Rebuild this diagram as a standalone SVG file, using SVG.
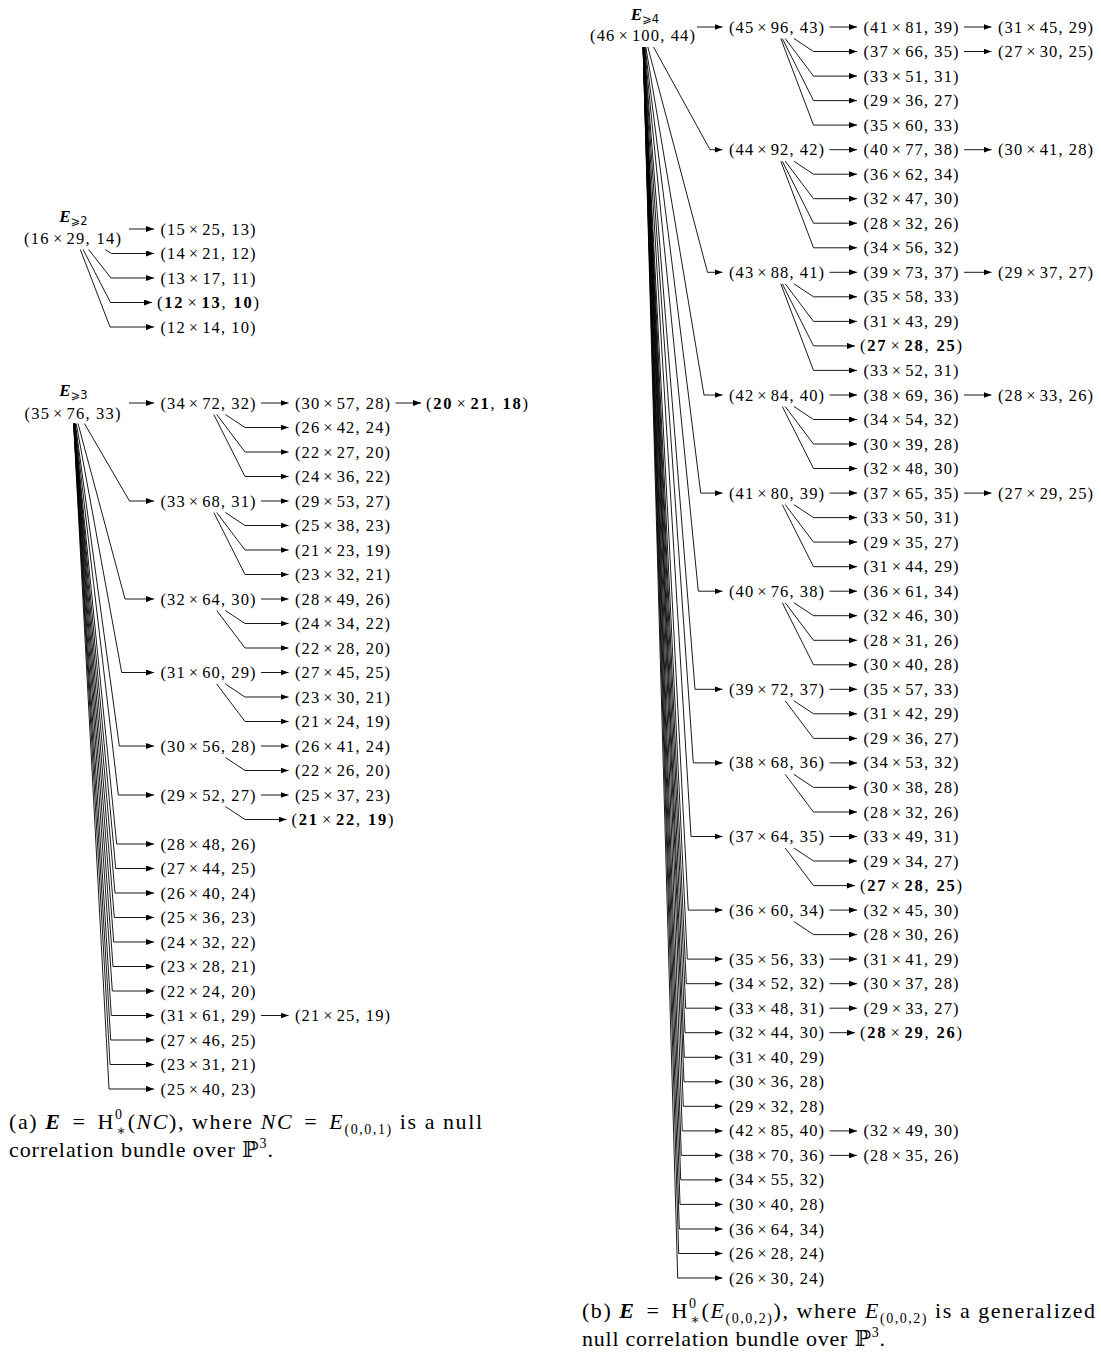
<svg xmlns="http://www.w3.org/2000/svg" width="1101" height="1355" viewBox="0 0 1101 1355">
<defs>
<style>
.t{font-family:"Liberation Serif","DejaVu Serif",serif;font-size:16.5px;text-anchor:middle;fill:#000}
.b{font-weight:bold}
.e{font-family:"Liberation Serif","DejaVu Serif",serif;font-size:17px;text-anchor:middle;fill:#000}
.bi{font-weight:bold;font-style:italic}
.sub{font-size:11.5px;font-family:"DejaVu Sans","Liberation Serif",serif}
.cap{font-family:"Liberation Serif","DejaVu Serif",serif;font-size:22px;fill:#000}
.it{font-style:italic}
.sm{font-size:14px}
.c{fill:none;stroke:#000;stroke-width:0.9;marker-end:url(#ah)}
</style>
<marker id="ah" viewBox="0 0 8 6" refX="8" refY="3" markerWidth="8" markerHeight="6" markerUnits="userSpaceOnUse" orient="auto"><path d="M0,0 L8,3 L0,6 z" fill="#000"/></marker>
</defs>
<rect width="1101" height="1355" fill="#fff"/>

<g id="connectors">
<path class="c" d="M129,229 H154"/>
<polyline class="c" points="105.1,249.5 111.5,253.5 154,253.5"/>
<polyline class="c" points="88.6,249.5 111,278 154,278"/>
<polyline class="c" points="83.1,249.5 110.5,302.5 152,302.5"/>
<polyline class="c" points="80.3,249.5 110,327 154,327"/>
<path class="c" d="M129,403 H154"/>
<polyline class="c" points="84.4,423.5 129.5,501 154,501"/>
<polyline class="c" points="78,423.5 125,599 154,599"/>
<polyline class="c" points="76.2,423.5 121.7,672.5 154,672.5"/>
<polyline class="c" points="75.3,423.5 119.3,746 154,746"/>
<polyline class="c" points="74.9,423.5 118.3,795 154,795"/>
<polyline class="c" points="74.6,423.5 116.7,844 154,844"/>
<polyline class="c" points="74.4,423.5 115.7,868.5 154,868.5"/>
<polyline class="c" points="74.3,423.5 115,893 154,893"/>
<polyline class="c" points="74.2,423.5 114.3,917.5 154,917.5"/>
<polyline class="c" points="74.1,423.5 113.7,942 154,942"/>
<polyline class="c" points="74,423.5 113,966.5 154,966.5"/>
<polyline class="c" points="73.9,423.5 112.3,991 154,991"/>
<polyline class="c" points="73.8,423.5 111.3,1015.5 154,1015.5"/>
<polyline class="c" points="73.7,423.5 110.7,1040 154,1040"/>
<polyline class="c" points="73.7,423.5 110,1064.5 154,1064.5"/>
<polyline class="c" points="73.6,423.5 109,1089 154,1089"/>
<path class="c" d="M261,403 H288.5"/>
<path class="c" d="M261,501 H288.5"/>
<path class="c" d="M261,599 H288.5"/>
<path class="c" d="M261,672.5 H288.5"/>
<path class="c" d="M261,746 H288.5"/>
<path class="c" d="M261,795 H288.5"/>
<path class="c" d="M261,1015.5 H288.5"/>
<path class="c" d="M395.5,403 H421"/>
<polyline class="c" points="225.4,414.5 245,427.5 288.5,427.5"/>
<polyline class="c" points="216.7,414.5 245,452 288.5,452"/>
<polyline class="c" points="213.8,414.5 245,476.5 288.5,476.5"/>
<polyline class="c" points="225.4,512.5 245,525.5 288.5,525.5"/>
<polyline class="c" points="216.7,512.5 245,550 288.5,550"/>
<polyline class="c" points="213.8,512.5 245,574.5 288.5,574.5"/>
<polyline class="c" points="225.4,610.5 245,623.5 288.5,623.5"/>
<polyline class="c" points="216.7,610.5 245,648 288.5,648"/>
<polyline class="c" points="225.4,684 245,697 288.5,697"/>
<polyline class="c" points="216.7,684 245,721.5 288.5,721.5"/>
<polyline class="c" points="225.4,757.5 245,770.5 288.5,770.5"/>
<polyline class="c" points="225.4,806.5 245,819.5 286.5,819.5"/>
<path class="c" d="M697,27 H722.5"/>
<polyline class="c" points="653.5,47 710,149.7 722.5,149.7"/>
<polyline class="c" points="647.8,47 707.5,272.3 722.5,272.3"/>
<polyline class="c" points="645.8,47 704,395 722.5,395"/>
<polyline class="c" points="645,47 700.7,493.1 722.5,493.1"/>
<polyline class="c" points="644.5,47 698.3,591.2 722.5,591.2"/>
<polyline class="c" points="644.1,47 695,689.3 722.5,689.3"/>
<polyline class="c" points="643.9,47 693.3,762.9 722.5,762.9"/>
<polyline class="c" points="643.7,47 691,836.5 722.5,836.5"/>
<polyline class="c" points="643.5,47 688.3,910.1 722.5,910.1"/>
<polyline class="c" points="643.5,47 687.3,959.1 722.5,959.1"/>
<polyline class="c" points="643.4,47 686.3,983.7 722.5,983.7"/>
<polyline class="c" points="643.4,47 685.7,1008.2 722.5,1008.2"/>
<polyline class="c" points="643.3,47 685,1032.7 722.5,1032.7"/>
<polyline class="c" points="643.3,47 684.3,1057.3 722.5,1057.3"/>
<polyline class="c" points="643.3,47 684,1081.8 722.5,1081.8"/>
<polyline class="c" points="643.3,47 683.3,1106.3 722.5,1106.3"/>
<polyline class="c" points="643.2,47 682.3,1130.9 722.5,1130.9"/>
<polyline class="c" points="643.2,47 681.3,1155.4 722.5,1155.4"/>
<polyline class="c" points="643.2,47 680.7,1179.9 722.5,1179.9"/>
<polyline class="c" points="643.1,47 680,1204.4 722.5,1204.4"/>
<polyline class="c" points="643.1,47 679.3,1229 722.5,1229"/>
<polyline class="c" points="643.1,47 678.7,1253.5 722.5,1253.5"/>
<polyline class="c" points="643.1,47 677.7,1278 722.5,1278"/>
<path class="c" d="M829.5,27 H857"/>
<path class="c" d="M829.5,149.7 H857"/>
<path class="c" d="M829.5,272.3 H857"/>
<path class="c" d="M829.5,395 H857"/>
<path class="c" d="M829.5,493.1 H857"/>
<path class="c" d="M829.5,591.2 H857"/>
<path class="c" d="M829.5,689.3 H857"/>
<path class="c" d="M829.5,762.9 H857"/>
<path class="c" d="M829.5,836.5 H857"/>
<path class="c" d="M829.5,910.1 H857"/>
<path class="c" d="M829.5,959.1 H857"/>
<path class="c" d="M829.5,983.7 H857"/>
<path class="c" d="M829.5,1008.2 H857"/>
<path class="c" d="M829.5,1032.7 H855"/>
<path class="c" d="M829.5,1130.9 H857"/>
<path class="c" d="M829.5,1155.4 H857"/>
<path class="c" d="M964,27 H991.5"/>
<path class="c" d="M964,51.5 H991.5"/>
<path class="c" d="M964,149.7 H991.5"/>
<path class="c" d="M964,272.3 H991.5"/>
<path class="c" d="M964,395 H991.5"/>
<path class="c" d="M964,493.1 H991.5"/>
<polyline class="c" points="793.9,38.5 813.5,51.5 857,51.5"/>
<polyline class="c" points="785.2,38.5 813.5,76.1 857,76.1"/>
<polyline class="c" points="782.3,38.5 813.5,100.6 857,100.6"/>
<polyline class="c" points="780.8,38.5 813.5,125.1 857,125.1"/>
<polyline class="c" points="793.9,161.2 813.5,174.2 857,174.2"/>
<polyline class="c" points="785.2,161.2 813.5,198.7 857,198.7"/>
<polyline class="c" points="782.3,161.2 813.5,223.2 857,223.2"/>
<polyline class="c" points="780.8,161.2 813.5,247.8 857,247.8"/>
<polyline class="c" points="793.9,283.8 813.5,296.8 857,296.8"/>
<polyline class="c" points="785.2,283.8 813.5,321.4 857,321.4"/>
<polyline class="c" points="782.3,283.8 813.5,345.9 855,345.9"/>
<polyline class="c" points="780.8,283.8 813.5,370.4 857,370.4"/>
<polyline class="c" points="793.9,406.5 813.5,419.5 857,419.5"/>
<polyline class="c" points="785.2,406.5 813.5,444 857,444"/>
<polyline class="c" points="782.3,406.5 813.5,468.5 857,468.5"/>
<polyline class="c" points="793.9,504.6 813.5,517.6 857,517.6"/>
<polyline class="c" points="785.2,504.6 813.5,542.1 857,542.1"/>
<polyline class="c" points="782.3,504.6 813.5,566.7 857,566.7"/>
<polyline class="c" points="793.9,602.7 813.5,615.7 857,615.7"/>
<polyline class="c" points="785.2,602.7 813.5,640.3 857,640.3"/>
<polyline class="c" points="782.3,602.7 813.5,664.8 857,664.8"/>
<polyline class="c" points="793.9,700.8 813.5,713.8 857,713.8"/>
<polyline class="c" points="785.2,700.8 813.5,738.4 857,738.4"/>
<polyline class="c" points="793.9,774.4 813.5,787.4 857,787.4"/>
<polyline class="c" points="785.2,774.4 813.5,812 857,812"/>
<polyline class="c" points="793.9,848 813.5,861 857,861"/>
<polyline class="c" points="785.2,848 813.5,885.6 855,885.6"/>
<polyline class="c" points="793.9,921.6 813.5,934.6 857,934.6"/>
</g>

<g id="e2-root"><text class="e" x="73.5" y="222"><tspan class="bi">E</tspan><tspan class="sub" dy="3">⩾2</tspan></text><text class="t" x="72.5" y="244" textLength="97">(16<tspan dx="3">×</tspan><tspan dx="3">29</tspan>, 14)</text></g>
<g id="e2-a0"><text class="t" x="208" y="234.5" textLength="95">(15<tspan dx="3">×</tspan><tspan dx="3">25</tspan>, 13)</text></g>
<g id="e2-a1"><text class="t" x="208" y="259" textLength="95">(14<tspan dx="3">×</tspan><tspan dx="3">21</tspan>, 12)</text></g>
<g id="e2-a2"><text class="t" x="208" y="283.5" textLength="95">(13<tspan dx="3">×</tspan><tspan dx="3">17</tspan>, 11)</text></g>
<g id="e2-a3"><text class="t" x="208" y="308" textLength="102">(<tspan class="b">12</tspan><tspan dx="3">×</tspan><tspan dx="3" class="b">13</tspan>, <tspan class="b">10</tspan>)</text></g>
<g id="e2-a4"><text class="t" x="208" y="332.5" textLength="95">(12<tspan dx="3">×</tspan><tspan dx="3">14</tspan>, 10)</text></g>

<g id="e3-root"><text class="e" x="73.5" y="396"><tspan class="bi">E</tspan><tspan class="sub" dy="3">⩾3</tspan></text><text class="t" x="72.5" y="419" textLength="96">(35<tspan dx="3">×</tspan><tspan dx="3">76</tspan>, 33)</text></g>
<g id="e3-a0"><text class="t" x="208" y="408.5" textLength="95">(34<tspan dx="3">×</tspan><tspan dx="3">72</tspan>, 32)</text></g>
<g id="e3-a4"><text class="t" x="208" y="506.5" textLength="95">(33<tspan dx="3">×</tspan><tspan dx="3">68</tspan>, 31)</text></g>
<g id="e3-a8"><text class="t" x="208" y="604.5" textLength="95">(32<tspan dx="3">×</tspan><tspan dx="3">64</tspan>, 30)</text></g>
<g id="e3-a11"><text class="t" x="208" y="678" textLength="95">(31<tspan dx="3">×</tspan><tspan dx="3">60</tspan>, 29)</text></g>
<g id="e3-a14"><text class="t" x="208" y="751.5" textLength="95">(30<tspan dx="3">×</tspan><tspan dx="3">56</tspan>, 28)</text></g>
<g id="e3-a16"><text class="t" x="208" y="800.5" textLength="95">(29<tspan dx="3">×</tspan><tspan dx="3">52</tspan>, 27)</text></g>
<g id="e3-a18"><text class="t" x="208" y="849.5" textLength="95">(28<tspan dx="3">×</tspan><tspan dx="3">48</tspan>, 26)</text></g>
<g id="e3-a19"><text class="t" x="208" y="874" textLength="95">(27<tspan dx="3">×</tspan><tspan dx="3">44</tspan>, 25)</text></g>
<g id="e3-a20"><text class="t" x="208" y="898.5" textLength="95">(26<tspan dx="3">×</tspan><tspan dx="3">40</tspan>, 24)</text></g>
<g id="e3-a21"><text class="t" x="208" y="923" textLength="95">(25<tspan dx="3">×</tspan><tspan dx="3">36</tspan>, 23)</text></g>
<g id="e3-a22"><text class="t" x="208" y="947.5" textLength="95">(24<tspan dx="3">×</tspan><tspan dx="3">32</tspan>, 22)</text></g>
<g id="e3-a23"><text class="t" x="208" y="972" textLength="95">(23<tspan dx="3">×</tspan><tspan dx="3">28</tspan>, 21)</text></g>
<g id="e3-a24"><text class="t" x="208" y="996.5" textLength="95">(22<tspan dx="3">×</tspan><tspan dx="3">24</tspan>, 20)</text></g>
<g id="e3-a25"><text class="t" x="208" y="1021" textLength="95">(31<tspan dx="3">×</tspan><tspan dx="3">61</tspan>, 29)</text></g>
<g id="e3-a26"><text class="t" x="208" y="1045.5" textLength="95">(27<tspan dx="3">×</tspan><tspan dx="3">46</tspan>, 25)</text></g>
<g id="e3-a27"><text class="t" x="208" y="1070" textLength="95">(23<tspan dx="3">×</tspan><tspan dx="3">31</tspan>, 21)</text></g>
<g id="e3-a28"><text class="t" x="208" y="1094.5" textLength="95">(25<tspan dx="3">×</tspan><tspan dx="3">40</tspan>, 23)</text></g>
<g id="e3-b0"><text class="t" x="342.5" y="408.5" textLength="95">(30<tspan dx="3">×</tspan><tspan dx="3">57</tspan>, 28)</text></g>
<g id="e3-b1"><text class="t" x="342.5" y="433" textLength="95">(26<tspan dx="3">×</tspan><tspan dx="3">42</tspan>, 24)</text></g>
<g id="e3-b2"><text class="t" x="342.5" y="457.5" textLength="95">(22<tspan dx="3">×</tspan><tspan dx="3">27</tspan>, 20)</text></g>
<g id="e3-b3"><text class="t" x="342.5" y="482" textLength="95">(24<tspan dx="3">×</tspan><tspan dx="3">36</tspan>, 22)</text></g>
<g id="e3-b4"><text class="t" x="342.5" y="506.5" textLength="95">(29<tspan dx="3">×</tspan><tspan dx="3">53</tspan>, 27)</text></g>
<g id="e3-b5"><text class="t" x="342.5" y="531" textLength="95">(25<tspan dx="3">×</tspan><tspan dx="3">38</tspan>, 23)</text></g>
<g id="e3-b6"><text class="t" x="342.5" y="555.5" textLength="95">(21<tspan dx="3">×</tspan><tspan dx="3">23</tspan>, 19)</text></g>
<g id="e3-b7"><text class="t" x="342.5" y="580" textLength="95">(23<tspan dx="3">×</tspan><tspan dx="3">32</tspan>, 21)</text></g>
<g id="e3-b8"><text class="t" x="342.5" y="604.5" textLength="95">(28<tspan dx="3">×</tspan><tspan dx="3">49</tspan>, 26)</text></g>
<g id="e3-b9"><text class="t" x="342.5" y="629" textLength="95">(24<tspan dx="3">×</tspan><tspan dx="3">34</tspan>, 22)</text></g>
<g id="e3-b10"><text class="t" x="342.5" y="653.5" textLength="95">(22<tspan dx="3">×</tspan><tspan dx="3">28</tspan>, 20)</text></g>
<g id="e3-b11"><text class="t" x="342.5" y="678" textLength="95">(27<tspan dx="3">×</tspan><tspan dx="3">45</tspan>, 25)</text></g>
<g id="e3-b12"><text class="t" x="342.5" y="702.5" textLength="95">(23<tspan dx="3">×</tspan><tspan dx="3">30</tspan>, 21)</text></g>
<g id="e3-b13"><text class="t" x="342.5" y="727" textLength="95">(21<tspan dx="3">×</tspan><tspan dx="3">24</tspan>, 19)</text></g>
<g id="e3-b14"><text class="t" x="342.5" y="751.5" textLength="95">(26<tspan dx="3">×</tspan><tspan dx="3">41</tspan>, 24)</text></g>
<g id="e3-b15"><text class="t" x="342.5" y="776" textLength="95">(22<tspan dx="3">×</tspan><tspan dx="3">26</tspan>, 20)</text></g>
<g id="e3-b16"><text class="t" x="342.5" y="800.5" textLength="95">(25<tspan dx="3">×</tspan><tspan dx="3">37</tspan>, 23)</text></g>
<g id="e3-b17"><text class="t" x="342.5" y="825" textLength="102">(<tspan class="b">21</tspan><tspan dx="3">×</tspan><tspan dx="3" class="b">22</tspan>, <tspan class="b">19</tspan>)</text></g>
<g id="e3-b25"><text class="t" x="342.5" y="1021" textLength="95">(21<tspan dx="3">×</tspan><tspan dx="3">25</tspan>, 19)</text></g>
<g id="e3-c0"><text class="t" x="477" y="408.5" textLength="102">(<tspan class="b">20</tspan><tspan dx="3">×</tspan><tspan dx="3" class="b">21</tspan>, <tspan class="b">18</tspan>)</text></g>

<g id="e4-root"><text class="e" x="645" y="20"><tspan class="bi">E</tspan><tspan class="sub" dy="3">⩾4</tspan></text><text class="t" x="642.5" y="40.5" textLength="105">(46<tspan dx="3">×</tspan><tspan dx="3">100</tspan>, 44)</text></g>
<g id="e4-a0"><text class="t" x="776.5" y="32.5" textLength="95">(45<tspan dx="3">×</tspan><tspan dx="3">96</tspan>, 43)</text></g>
<g id="e4-a5"><text class="t" x="776.5" y="155.2" textLength="95">(44<tspan dx="3">×</tspan><tspan dx="3">92</tspan>, 42)</text></g>
<g id="e4-a10"><text class="t" x="776.5" y="277.8" textLength="95">(43<tspan dx="3">×</tspan><tspan dx="3">88</tspan>, 41)</text></g>
<g id="e4-a15"><text class="t" x="776.5" y="400.5" textLength="95">(42<tspan dx="3">×</tspan><tspan dx="3">84</tspan>, 40)</text></g>
<g id="e4-a19"><text class="t" x="776.5" y="498.6" textLength="95">(41<tspan dx="3">×</tspan><tspan dx="3">80</tspan>, 39)</text></g>
<g id="e4-a23"><text class="t" x="776.5" y="596.7" textLength="95">(40<tspan dx="3">×</tspan><tspan dx="3">76</tspan>, 38)</text></g>
<g id="e4-a27"><text class="t" x="776.5" y="694.8" textLength="95">(39<tspan dx="3">×</tspan><tspan dx="3">72</tspan>, 37)</text></g>
<g id="e4-a30"><text class="t" x="776.5" y="768.4" textLength="95">(38<tspan dx="3">×</tspan><tspan dx="3">68</tspan>, 36)</text></g>
<g id="e4-a33"><text class="t" x="776.5" y="842" textLength="95">(37<tspan dx="3">×</tspan><tspan dx="3">64</tspan>, 35)</text></g>
<g id="e4-a36"><text class="t" x="776.5" y="915.6" textLength="95">(36<tspan dx="3">×</tspan><tspan dx="3">60</tspan>, 34)</text></g>
<g id="e4-a38"><text class="t" x="776.5" y="964.6" textLength="95">(35<tspan dx="3">×</tspan><tspan dx="3">56</tspan>, 33)</text></g>
<g id="e4-a39"><text class="t" x="776.5" y="989.2" textLength="95">(34<tspan dx="3">×</tspan><tspan dx="3">52</tspan>, 32)</text></g>
<g id="e4-a40"><text class="t" x="776.5" y="1013.7" textLength="95">(33<tspan dx="3">×</tspan><tspan dx="3">48</tspan>, 31)</text></g>
<g id="e4-a41"><text class="t" x="776.5" y="1038.2" textLength="95">(32<tspan dx="3">×</tspan><tspan dx="3">44</tspan>, 30)</text></g>
<g id="e4-a42"><text class="t" x="776.5" y="1062.8" textLength="95">(31<tspan dx="3">×</tspan><tspan dx="3">40</tspan>, 29)</text></g>
<g id="e4-a43"><text class="t" x="776.5" y="1087.3" textLength="95">(30<tspan dx="3">×</tspan><tspan dx="3">36</tspan>, 28)</text></g>
<g id="e4-a44"><text class="t" x="776.5" y="1111.8" textLength="95">(29<tspan dx="3">×</tspan><tspan dx="3">32</tspan>, 28)</text></g>
<g id="e4-a45"><text class="t" x="776.5" y="1136.4" textLength="95">(42<tspan dx="3">×</tspan><tspan dx="3">85</tspan>, 40)</text></g>
<g id="e4-a46"><text class="t" x="776.5" y="1160.9" textLength="95">(38<tspan dx="3">×</tspan><tspan dx="3">70</tspan>, 36)</text></g>
<g id="e4-a47"><text class="t" x="776.5" y="1185.4" textLength="95">(34<tspan dx="3">×</tspan><tspan dx="3">55</tspan>, 32)</text></g>
<g id="e4-a48"><text class="t" x="776.5" y="1209.9" textLength="95">(30<tspan dx="3">×</tspan><tspan dx="3">40</tspan>, 28)</text></g>
<g id="e4-a49"><text class="t" x="776.5" y="1234.5" textLength="95">(36<tspan dx="3">×</tspan><tspan dx="3">64</tspan>, 34)</text></g>
<g id="e4-a50"><text class="t" x="776.5" y="1259" textLength="95">(26<tspan dx="3">×</tspan><tspan dx="3">28</tspan>, 24)</text></g>
<g id="e4-a51"><text class="t" x="776.5" y="1283.5" textLength="95">(26<tspan dx="3">×</tspan><tspan dx="3">30</tspan>, 24)</text></g>
<g id="e4-b0"><text class="t" x="911" y="32.5" textLength="95">(41<tspan dx="3">×</tspan><tspan dx="3">81</tspan>, 39)</text></g>
<g id="e4-b1"><text class="t" x="911" y="57" textLength="95">(37<tspan dx="3">×</tspan><tspan dx="3">66</tspan>, 35)</text></g>
<g id="e4-b2"><text class="t" x="911" y="81.6" textLength="95">(33<tspan dx="3">×</tspan><tspan dx="3">51</tspan>, 31)</text></g>
<g id="e4-b3"><text class="t" x="911" y="106.1" textLength="95">(29<tspan dx="3">×</tspan><tspan dx="3">36</tspan>, 27)</text></g>
<g id="e4-b4"><text class="t" x="911" y="130.6" textLength="95">(35<tspan dx="3">×</tspan><tspan dx="3">60</tspan>, 33)</text></g>
<g id="e4-b5"><text class="t" x="911" y="155.2" textLength="95">(40<tspan dx="3">×</tspan><tspan dx="3">77</tspan>, 38)</text></g>
<g id="e4-b6"><text class="t" x="911" y="179.7" textLength="95">(36<tspan dx="3">×</tspan><tspan dx="3">62</tspan>, 34)</text></g>
<g id="e4-b7"><text class="t" x="911" y="204.2" textLength="95">(32<tspan dx="3">×</tspan><tspan dx="3">47</tspan>, 30)</text></g>
<g id="e4-b8"><text class="t" x="911" y="228.7" textLength="95">(28<tspan dx="3">×</tspan><tspan dx="3">32</tspan>, 26)</text></g>
<g id="e4-b9"><text class="t" x="911" y="253.3" textLength="95">(34<tspan dx="3">×</tspan><tspan dx="3">56</tspan>, 32)</text></g>
<g id="e4-b10"><text class="t" x="911" y="277.8" textLength="95">(39<tspan dx="3">×</tspan><tspan dx="3">73</tspan>, 37)</text></g>
<g id="e4-b11"><text class="t" x="911" y="302.3" textLength="95">(35<tspan dx="3">×</tspan><tspan dx="3">58</tspan>, 33)</text></g>
<g id="e4-b12"><text class="t" x="911" y="326.9" textLength="95">(31<tspan dx="3">×</tspan><tspan dx="3">43</tspan>, 29)</text></g>
<g id="e4-b13"><text class="t" x="911" y="351.4" textLength="102">(<tspan class="b">27</tspan><tspan dx="3">×</tspan><tspan dx="3" class="b">28</tspan>, <tspan class="b">25</tspan>)</text></g>
<g id="e4-b14"><text class="t" x="911" y="375.9" textLength="95">(33<tspan dx="3">×</tspan><tspan dx="3">52</tspan>, 31)</text></g>
<g id="e4-b15"><text class="t" x="911" y="400.5" textLength="95">(38<tspan dx="3">×</tspan><tspan dx="3">69</tspan>, 36)</text></g>
<g id="e4-b16"><text class="t" x="911" y="425" textLength="95">(34<tspan dx="3">×</tspan><tspan dx="3">54</tspan>, 32)</text></g>
<g id="e4-b17"><text class="t" x="911" y="449.5" textLength="95">(30<tspan dx="3">×</tspan><tspan dx="3">39</tspan>, 28)</text></g>
<g id="e4-b18"><text class="t" x="911" y="474" textLength="95">(32<tspan dx="3">×</tspan><tspan dx="3">48</tspan>, 30)</text></g>
<g id="e4-b19"><text class="t" x="911" y="498.6" textLength="95">(37<tspan dx="3">×</tspan><tspan dx="3">65</tspan>, 35)</text></g>
<g id="e4-b20"><text class="t" x="911" y="523.1" textLength="95">(33<tspan dx="3">×</tspan><tspan dx="3">50</tspan>, 31)</text></g>
<g id="e4-b21"><text class="t" x="911" y="547.6" textLength="95">(29<tspan dx="3">×</tspan><tspan dx="3">35</tspan>, 27)</text></g>
<g id="e4-b22"><text class="t" x="911" y="572.2" textLength="95">(31<tspan dx="3">×</tspan><tspan dx="3">44</tspan>, 29)</text></g>
<g id="e4-b23"><text class="t" x="911" y="596.7" textLength="95">(36<tspan dx="3">×</tspan><tspan dx="3">61</tspan>, 34)</text></g>
<g id="e4-b24"><text class="t" x="911" y="621.2" textLength="95">(32<tspan dx="3">×</tspan><tspan dx="3">46</tspan>, 30)</text></g>
<g id="e4-b25"><text class="t" x="911" y="645.8" textLength="95">(28<tspan dx="3">×</tspan><tspan dx="3">31</tspan>, 26)</text></g>
<g id="e4-b26"><text class="t" x="911" y="670.3" textLength="95">(30<tspan dx="3">×</tspan><tspan dx="3">40</tspan>, 28)</text></g>
<g id="e4-b27"><text class="t" x="911" y="694.8" textLength="95">(35<tspan dx="3">×</tspan><tspan dx="3">57</tspan>, 33)</text></g>
<g id="e4-b28"><text class="t" x="911" y="719.3" textLength="95">(31<tspan dx="3">×</tspan><tspan dx="3">42</tspan>, 29)</text></g>
<g id="e4-b29"><text class="t" x="911" y="743.9" textLength="95">(29<tspan dx="3">×</tspan><tspan dx="3">36</tspan>, 27)</text></g>
<g id="e4-b30"><text class="t" x="911" y="768.4" textLength="95">(34<tspan dx="3">×</tspan><tspan dx="3">53</tspan>, 32)</text></g>
<g id="e4-b31"><text class="t" x="911" y="792.9" textLength="95">(30<tspan dx="3">×</tspan><tspan dx="3">38</tspan>, 28)</text></g>
<g id="e4-b32"><text class="t" x="911" y="817.5" textLength="95">(28<tspan dx="3">×</tspan><tspan dx="3">32</tspan>, 26)</text></g>
<g id="e4-b33"><text class="t" x="911" y="842" textLength="95">(33<tspan dx="3">×</tspan><tspan dx="3">49</tspan>, 31)</text></g>
<g id="e4-b34"><text class="t" x="911" y="866.5" textLength="95">(29<tspan dx="3">×</tspan><tspan dx="3">34</tspan>, 27)</text></g>
<g id="e4-b35"><text class="t" x="911" y="891.1" textLength="102">(<tspan class="b">27</tspan><tspan dx="3">×</tspan><tspan dx="3" class="b">28</tspan>, <tspan class="b">25</tspan>)</text></g>
<g id="e4-b36"><text class="t" x="911" y="915.6" textLength="95">(32<tspan dx="3">×</tspan><tspan dx="3">45</tspan>, 30)</text></g>
<g id="e4-b37"><text class="t" x="911" y="940.1" textLength="95">(28<tspan dx="3">×</tspan><tspan dx="3">30</tspan>, 26)</text></g>
<g id="e4-b38"><text class="t" x="911" y="964.6" textLength="95">(31<tspan dx="3">×</tspan><tspan dx="3">41</tspan>, 29)</text></g>
<g id="e4-b39"><text class="t" x="911" y="989.2" textLength="95">(30<tspan dx="3">×</tspan><tspan dx="3">37</tspan>, 28)</text></g>
<g id="e4-b40"><text class="t" x="911" y="1013.7" textLength="95">(29<tspan dx="3">×</tspan><tspan dx="3">33</tspan>, 27)</text></g>
<g id="e4-b41"><text class="t" x="911" y="1038.2" textLength="102">(<tspan class="b">28</tspan><tspan dx="3">×</tspan><tspan dx="3" class="b">29</tspan>, <tspan class="b">26</tspan>)</text></g>
<g id="e4-b45"><text class="t" x="911" y="1136.4" textLength="95">(32<tspan dx="3">×</tspan><tspan dx="3">49</tspan>, 30)</text></g>
<g id="e4-b46"><text class="t" x="911" y="1160.9" textLength="95">(28<tspan dx="3">×</tspan><tspan dx="3">35</tspan>, 26)</text></g>
<g id="e4-c0"><text class="t" x="1045.5" y="32.5" textLength="95">(31<tspan dx="3">×</tspan><tspan dx="3">45</tspan>, 29)</text></g>
<g id="e4-c1"><text class="t" x="1045.5" y="57" textLength="95">(27<tspan dx="3">×</tspan><tspan dx="3">30</tspan>, 25)</text></g>
<g id="e4-c5"><text class="t" x="1045.5" y="155.2" textLength="95">(30<tspan dx="3">×</tspan><tspan dx="3">41</tspan>, 28)</text></g>
<g id="e4-c10"><text class="t" x="1045.5" y="277.8" textLength="95">(29<tspan dx="3">×</tspan><tspan dx="3">37</tspan>, 27)</text></g>
<g id="e4-c15"><text class="t" x="1045.5" y="400.5" textLength="95">(28<tspan dx="3">×</tspan><tspan dx="3">33</tspan>, 26)</text></g>
<g id="e4-c19"><text class="t" x="1045.5" y="498.6" textLength="95">(27<tspan dx="3">×</tspan><tspan dx="3">29</tspan>, 25)</text></g>

<g id="caption-a">
<text class="cap" x="9" y="1129" textLength="473" lengthAdjust="spacing">(a) <tspan class="bi">E</tspan><tspan dx="4"> = </tspan><tspan dx="4">H</tspan><tspan class="sm" dy="-10.5">0</tspan><tspan class="sm" dx="-7" dy="16.5">∗</tspan><tspan dy="-6">(</tspan><tspan class="it">NC</tspan>), where <tspan class="it">NC</tspan><tspan dx="4"> = </tspan><tspan dx="4" class="it">E</tspan><tspan class="sm" dy="5">(0,0,1)</tspan><tspan dy="-5"> is a null</tspan></text>
<text class="cap" x="9" y="1157" textLength="264" lengthAdjust="spacing">correlation bundle over ℙ<tspan class="sm" dy="-9">3</tspan><tspan dy="9">.</tspan></text>
</g>
<g id="caption-b">
<text class="cap" x="582" y="1318" textLength="513" lengthAdjust="spacing">(b) <tspan class="bi">E</tspan><tspan dx="4"> = </tspan><tspan dx="4">H</tspan><tspan class="sm" dy="-10.5">0</tspan><tspan class="sm" dx="-7" dy="16.5">∗</tspan><tspan dy="-6">(</tspan><tspan class="it">E</tspan><tspan class="sm" dy="5">(0,0,2)</tspan><tspan dy="-5">), where </tspan><tspan class="it">E</tspan><tspan class="sm" dy="5">(0,0,2)</tspan><tspan dy="-5"> is a generalized</tspan></text>
<text class="cap" x="582" y="1346" textLength="303" lengthAdjust="spacing">null correlation bundle over ℙ<tspan class="sm" dy="-9">3</tspan><tspan dy="9">.</tspan></text>
</g>
</svg>
